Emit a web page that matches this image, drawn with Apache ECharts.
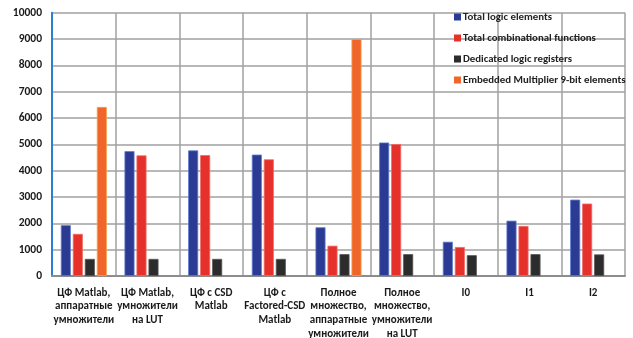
<!DOCTYPE html>
<html>
<head>
<meta charset="utf-8">
<script src="https://cdn.jsdelivr.net/npm/echarts@6/dist/echarts.min.js"></script>
<style>
  html, body { margin: 0; padding: 0; background: #fff; }
  #chart { width: 633px; height: 338px; }
</style>
</head>
<body>
<div id="chart"></div>
<script>
// Filter implementations compared by FPGA resource usage
const categories = [
  'ЦФ Matlab,\nаппаратные\nумножители',
  'ЦФ Matlab,\nумножители\nна LUT',
  'ЦФ с CSD\nMatlab',
  'ЦФ с\nFactored-CSD\nMatlab',
  'Полное\nмножество,\nаппаратные\nумножители',
  'Полное\nмножество,\nумножители\nна LUT',
  'I0',
  'I1',
  'I2'
];

const seriesNames = [
  'Total logic elements',
  'Total combinational functions',
  'Dedicated logic registers',
  'Embedded Multiplier 9-bit elements'
];

const totalLogicElements = [1930, 4740, 4770, 4610, 1850, 5070, 1300, 2100, 2900];
const totalCombinational = [1600, 4580, 4590, 4430, 1150, 5010, 1100, 1900, 2750];
const dedicatedRegisters = [650, 650, 650, 650, 830, 830, 790, 830, 820];
const embeddedMultipliers = [6420, null, null, null, 9000, null, null, null, null];

const yTicks = { min: 0, max: 10000, interval: 1000 };

const fills = ['#2b3a92', '#e6302b', '#2c2c2c', '#f0662a'];
const edges = ['#5a7bd0', '#f06a5e', '#555555', '#f5a04a'];
const seriesData = [totalLogicElements, totalCombinational, dedicatedRegisters, embeddedMultipliers];

const font = 'Carlito, Lato, sans-serif';

const chart = echarts.init(document.getElementById('chart'), null, { renderer: 'canvas' });
chart.setOption({
  backgroundColor: '#ffffff',
  animation: false,
  grid: { left: 52, right: 8, top: 12.7, bottom: 62, containLabel: false, outerBoundsMode: 'none' },
  legend: {
    orient: 'vertical',
    left: 449,
    top: 5,
    itemWidth: 7,
    itemHeight: 7,
    itemGap: 7,
    icon: 'rect',
    data: seriesNames,
    itemStyle: { borderWidth: 0 },
    textStyle: { fontFamily: font, fontWeight: 'bold', fontSize: 10.8, color: '#222', lineHeight: 14, padding: [0, 0, 0, -3] }
  },
  xAxis: {
    type: 'category',
    data: categories,
    axisTick: { show: false },
    axisLine: { lineStyle: { color: '#8c8c8c', width: 2 } },
    splitLine: { show: true, lineStyle: { color: '#a0a0a0', width: 1.5 } },
    axisLabel: {
      interval: 0,
      margin: 10,
      color: '#1a1a1a',
      fontFamily: font,
      fontWeight: 'bold',
      fontSize: 11,
      lineHeight: 13.7
    }
  },
  yAxis: {
    type: 'value',
    min: yTicks.min,
    max: yTicks.max,
    interval: yTicks.interval,
    axisLine: { show: true, lineStyle: { color: '#2a7fd4', width: 2 } },
    axisTick: { show: false },
    splitLine: { lineStyle: { color: '#a0a0a0', width: 1.5 } },
    axisLabel: {
      margin: 10,
      color: '#1a1a1a',
      fontFamily: font,
      fontWeight: 'bold',
      fontSize: 11.5,
      formatter: v => String(v)
    }
  },
  series: seriesNames.map((name, i) => ({
    name: name,
    type: 'bar',
    data: seriesData[i],
    barWidth: 10,
    barGap: '20%',
    itemStyle: { color: fills[i], borderColor: edges[i], borderWidth: 0.8 }
  }))
});
</script>
</body>
</html>
